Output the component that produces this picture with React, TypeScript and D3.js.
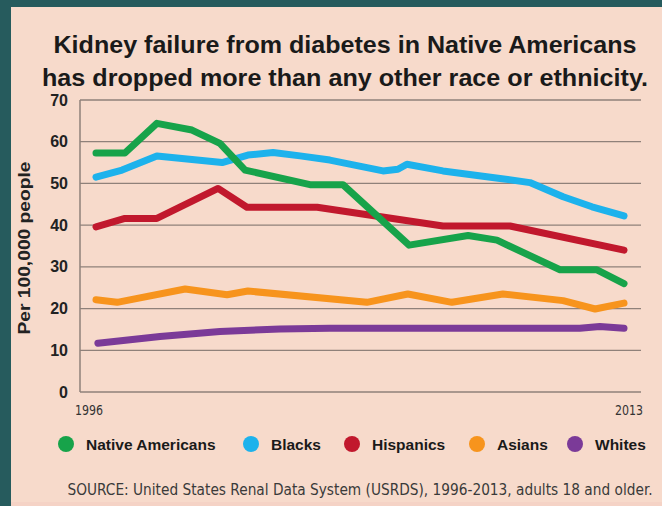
import React from "react";
import * as d3 from "d3";

const title1 = "Kidney failure from diabetes in Native Americans";
const title2 = "has dropped more than any other race or ethnicity.";
const yLabel = "Per 100,000 people";
const source = "SOURCE: United States Renal Data System (USRDS), 1996-2013, adults 18 and older.";

const yTicks = [0, 10, 20, 30, 40, 50, 60, 70];
const xTickLabels = ["1996", "2013"];

const seriesNames = ["Native Americans", "Blacks", "Hispanics", "Asians", "Whites"];
const seriesColors = ["#17a34a", "#1db2ec", "#c1182d", "#f7941d", "#7b3a98"];

const nativeAmericans: [number, number][] = [
  [1996, 57.3], [1996.93, 57.3], [1997.96, 64.4], [1999.09, 62.8], [1999.99, 59.6],
  [2000.8, 53.2], [2002.89, 49.7], [2003.95, 49.7], [2006.08, 35.2], [2007.98, 37.5],
  [2008.91, 36.4], [2010.94, 29.3], [2012.13, 29.3], [2013, 26.0],
];
const blacks: [number, number][] = [
  [1996, 51.5], [1996.84, 53.2], [1997.96, 56.6], [2000.06, 55.0], [2000.89, 56.8],
  [2001.7, 57.4], [2002.57, 56.6], [2003.53, 55.6], [2005.24, 53.0], [2005.72, 53.4],
  [2006.01, 54.6], [2007.17, 53.0], [2009.01, 51.2], [2009.97, 50.2], [2011.04, 46.8],
  [2011.97, 44.4], [2013, 42.2],
];
const hispanics: [number, number][] = [
  [1996, 39.6], [1996.93, 41.6], [1997.96, 41.6], [1999.93, 48.8], [2000.86, 44.3],
  [2003.12, 44.3], [2007.17, 39.8], [2009.33, 39.8], [2013, 34.0],
];
const asians: [number, number][] = [
  [1996, 22.1], [1996.68, 21.5], [1998.87, 24.7], [2000.22, 23.3], [2000.89, 24.2],
  [2004.72, 21.5], [2006.04, 23.5], [2007.46, 21.5], [2009.1, 23.5], [2011.04, 21.9],
  [2012.07, 19.9], [2013, 21.3],
];
const whites: [number, number][] = [
  [1996.06, 11.7], [1998.06, 13.3], [1999.99, 14.5], [2001.92, 15.1], [2003.53, 15.3],
  [2011.58, 15.3], [2012.22, 15.7], [2013, 15.3],
];

const seriesData = [nativeAmericans, blacks, hispanics, asians, whites];

const W = 662;
const H = 506;
const FONT = "'Liberation Sans', Arial, Helvetica, sans-serif";
const NARROW = "'Liberation Sans Narrow', 'DejaVu Sans Condensed', 'Liberation Sans', Arial, sans-serif";

export default function App() {
  const x = d3.scaleLinear().domain([1996, 2013]).range([96, 624]);
  const y = d3.scaleLinear().domain([0, 70]).range([392, 100]);
  const line = d3
    .line<[number, number]>()
    .x((d) => x(d[0]))
    .y((d) => y(d[1]))
    .curve(d3.curveLinear);

  const drawOrder = [4, 3, 2, 1, 0];
  const legendCircleX = [66, 251, 352, 477, 575];

  return (
    <svg
      width={W}
      height={H}
      style={{ position: "absolute", left: 0, top: 0, display: "block" }}
    >
      <rect x={0} y={0} width={W} height={H} fill="#265b5d" />
      <rect x={11} y={7} width={W - 11} height={H - 7} fill="#f7dacb" />
      <rect x={11} y={502} width={W - 11} height={4} fill="#f5d3c6" />

      <text
        x={345}
        y={53}
        textAnchor="middle"
        fontFamily={FONT}
        fontWeight="bold"
        fontSize={24.5}
        fill="#1a1a1a"
        textLength={583}
        lengthAdjust="spacingAndGlyphs"
      >
        {title1}
      </text>
      <text
        x={345}
        y={86}
        textAnchor="middle"
        fontFamily={FONT}
        fontWeight="bold"
        fontSize={24.5}
        fill="#1a1a1a"
        textLength={606}
        lengthAdjust="spacingAndGlyphs"
      >
        {title2}
      </text>

      {yTicks.map((t) => (
        <g key={t}>
          <line
            x1={80}
            x2={641}
            y1={y(t)}
            y2={y(t)}
            stroke="#8f817a"
            strokeWidth={1.3}
          />
          <text
            x={68}
            y={y(t) + 5.5}
            textAnchor="end"
            fontFamily={FONT}
            fontWeight="bold"
            fontSize={16}
            fill="#222"
          >
            {t}
          </text>
        </g>
      ))}
      <line x1={80} x2={80} y1={y(70)} y2={y(0)} stroke="#8f817a" strokeWidth={1.5} />

      <text
        x={89}
        y={415}
        textAnchor="middle"
        fontFamily={NARROW}
        fontSize={14}
        fill="#333"
        textLength={28}
        lengthAdjust="spacingAndGlyphs"
      >
        {xTickLabels[0]}
      </text>
      <text
        x={629}
        y={415}
        textAnchor="middle"
        fontFamily={NARROW}
        fontSize={14}
        fill="#333"
        textLength={28}
        lengthAdjust="spacingAndGlyphs"
      >
        {xTickLabels[1]}
      </text>

      <text
        transform={`translate(30, 248) rotate(-90)`}
        textAnchor="middle"
        fontFamily={FONT}
        fontWeight="bold"
        fontSize={17}
        fill="#222"
        textLength={173}
        lengthAdjust="spacingAndGlyphs"
      >
        {yLabel}
      </text>

      {drawOrder.map((i) => (
        <path
          key={seriesNames[i]}
          d={line(seriesData[i]) || ""}
          fill="none"
          stroke={seriesColors[i]}
          strokeWidth={7}
          strokeLinecap="round"
          strokeLinejoin="round"
        />
      ))}

      {seriesNames.map((name, i) => (
        <g key={name}>
          <circle cx={legendCircleX[i]} cy={444} r={8} fill={seriesColors[i]} />
          <text
            x={legendCircleX[i] + 20}
            y={450}
            fontFamily={FONT}
            fontWeight="bold"
            fontSize={15.5}
            fill="#1a1a1a"
          >
            {name}
          </text>
        </g>
      ))}

      <text
        x={360}
        y={495}
        textAnchor="middle"
        fontFamily={NARROW}
        fontSize={15}
        fill="#3a3a3a"
        textLength={585}
        lengthAdjust="spacingAndGlyphs"
      >
        {source}
      </text>
    </svg>
  );
}
